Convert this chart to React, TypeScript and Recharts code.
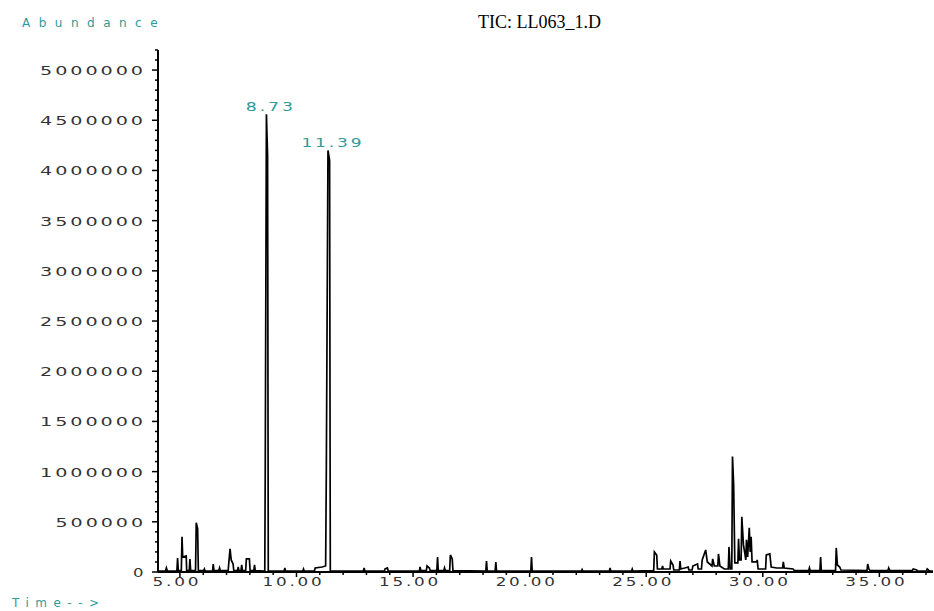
import { LineChart, Line, XAxis, YAxis, ReferenceDot } from "recharts";

// retention time (min) and abundance
const times = [
  4.1, 4.38, 4.42, 4.46, 4.87, 4.9, 4.93, 5.06, 5.09, 5.12, 5.27, 5.29, 5.4, 5.43, 5.46,
  5.67, 5.7, 5.76, 5.79, 6.02, 6.05, 6.08, 6.4, 6.43, 6.46, 6.67, 6.7, 6.73,
  7.07, 7.1, 7.15, 7.2, 7.28, 7.31, 7.47, 7.5, 7.53, 7.62, 7.65, 7.68, 7.82, 7.85, 7.98, 8.01,
  8.17, 8.2, 8.23, 8.64, 8.66, 8.71, 8.76, 8.79, 9.47, 9.5, 9.53, 10.27, 10.3, 10.33,
  10.77, 10.8, 11.1, 11.25, 11.28, 11.35, 11.42, 11.45, 12.87, 12.9, 12.93, 13.77, 13.8, 13.9, 13.93,
  15.27, 15.3, 15.33, 15.57, 15.6, 15.7, 15.73, 16.02, 16.05, 16.08, 16.32, 16.35, 16.38,
  16.57, 16.6, 16.68, 16.71, 18.12, 18.15, 18.18, 18.52, 18.55, 18.58, 20.05, 20.08, 20.11,
  22.22, 22.25, 22.28, 23.42, 23.45, 23.48, 24.37, 24.4, 24.43,
  25.32, 25.35, 25.45, 25.48, 25.67, 25.7, 25.73, 26.02, 26.05, 26.15, 26.18,
  26.42, 26.45, 26.48, 26.65, 26.8, 26.83, 26.97, 27.0, 27.2, 27.23,
  27.37, 27.4, 27.55, 27.62, 27.82, 27.85, 27.92, 28.07, 28.1, 28.16, 28.35,
  28.52, 28.55, 28.6, 28.67, 28.7, 28.75, 28.8, 28.93, 28.96, 29.0, 29.07, 29.1, 29.17, 29.24,
  29.27, 29.3, 29.35, 29.42, 29.46, 29.5, 29.54, 29.73, 29.76, 29.8, 30.12, 30.15, 30.3, 30.36,
  30.6, 30.85, 30.88, 30.92, 31.3, 31.35, 31.97, 32.0, 32.03, 32.45, 32.48, 32.51,
  33.12, 33.15, 33.2, 33.3, 33.35, 34.47, 34.5, 34.55, 34.6, 35.37, 35.4, 35.45,
  36.42, 36.45, 36.6, 36.63, 37.02, 37.05, 37.15, 37.3,
];
const abundance = [
  10000, 10000, 40000, 10000, 10000, 140000, 15000, 15000, 350000, 150000, 160000, 15000, 15000, 130000, 15000,
  15000, 490000, 430000, 15000, 15000, 30000, 10000, 10000, 80000, 15000, 15000, 40000, 15000,
  15000, 100000, 230000, 120000, 80000, 15000, 15000, 50000, 15000, 15000, 70000, 15000, 15000, 130000, 130000, 15000,
  15000, 70000, 15000, 10000, 1030000, 4560000, 4150000, 10000, 10000, 40000, 10000, 10000, 30000, 10000,
  10000, 40000, 50000, 60000, 1020000, 4200000, 4100000, 10000, 10000, 40000, 10000, 10000, 30000, 40000, 10000,
  10000, 50000, 15000, 15000, 60000, 40000, 15000, 15000, 150000, 15000, 15000, 40000, 15000,
  15000, 170000, 130000, 15000, 10000, 110000, 10000, 10000, 100000, 10000, 10000, 150000, 10000,
  10000, 25000, 10000, 10000, 40000, 10000, 10000, 30000, 10000,
  15000, 200000, 170000, 30000, 30000, 60000, 30000, 30000, 110000, 70000, 20000,
  20000, 110000, 30000, 40000, 50000, 20000, 20000, 60000, 80000, 30000,
  30000, 120000, 220000, 100000, 60000, 130000, 60000, 60000, 180000, 60000, 30000,
  30000, 250000, 30000, 30000, 1150000, 870000, 90000, 90000, 330000, 120000, 120000, 550000, 270000, 170000,
  120000, 320000, 150000, 440000, 200000, 350000, 100000, 100000, 120000, 30000, 30000, 170000, 180000, 50000,
  40000, 40000, 100000, 40000, 30000, 15000, 15000, 40000, 15000, 15000, 150000, 15000,
  15000, 240000, 70000, 50000, 20000, 15000, 80000, 30000, 15000, 15000, 40000, 15000,
  15000, 30000, 20000, 10000, 10000, 30000, 10000, 10000,
];

const peakTimes = [8.73, 11.39];
const peakLabels = ["8.73", "11.39"];
const peakTops = [4560000, 4200000];

const yTicks = Array.from({ length: 53 }, (_, i) => i * 100000);
const xTicks = Array.from({ length: 33 }, (_, i) => 5 + i);

const data = times.map((t, i) => ({ t, v: abundance[i] }));

const TEAL = "#2f9a9a";
const AXIS_FONT = "'DejaVu Sans', sans-serif";

function YTick(props: any) {
  const { x, y, payload } = props;
  const major = payload.value % 500000 === 0;
  const label = String(payload.value);
  return (
    <g>
      <line x1={x - (major ? 6 : 3)} x2={x} y1={y} y2={y} stroke="#000" strokeWidth={1.5} />
      {major && (
        <text x={x - 12} y={y + 5} textAnchor="end" fontSize={13} letterSpacing={2}
          textLength={15.5 * label.length - 2.5} lengthAdjust="spacingAndGlyphs"
          fill="#333" fontFamily={AXIS_FONT}>
          {label}
        </text>
      )}
    </g>
  );
}

function XTick(props: any) {
  const { x, y, payload } = props;
  const major = payload.value % 5 === 0;
  const label = payload.value.toFixed(2);
  return (
    <g>
      <line x1={x} x2={x} y1={y} y2={y + (major ? 5 : 3)} stroke="#000" strokeWidth={1.5} />
      {major && (
        <text x={x - 3} y={y + 14} textAnchor="middle" fontSize={12} letterSpacing={2}
          textLength={13 * label.length - 3} lengthAdjust="spacingAndGlyphs"
          fill="#333" fontFamily={AXIS_FONT}>
          {label}
        </text>
      )}
    </g>
  );
}

function PeakLabel(props: any) {
  const { viewBox, value } = props;
  return (
    <text x={viewBox.x + 4} y={viewBox.y - 3} textAnchor="middle" fontSize={12} letterSpacing={2}
      textLength={13 * value.length - 2} lengthAdjust="spacingAndGlyphs"
      fill={TEAL} fontFamily={AXIS_FONT}>
      {value}
    </text>
  );
}

export default function App() {
  return (
    <div style={{ position: "absolute", left: 0, top: 0, width: 934, height: 611, background: "#fff" }}>
      <LineChart width={934} height={611} data={data} margin={{ top: 50, right: 1, left: 0, bottom: 0 }}>
        <XAxis dataKey="t" type="number" domain={[4.06, 37.3]} allowDataOverflow ticks={xTicks}
          interval={0} height={39} tickSize={0} tickMargin={0} tick={<XTick />}
          axisLine={{ stroke: "#000", strokeWidth: 2 }} />
        <YAxis type="number" domain={[0, 5200000]} allowDataOverflow ticks={yTicks} interval={0}
          width={158} tickSize={0} tickMargin={0} tick={<YTick />}
          axisLine={{ stroke: "#000", strokeWidth: 2 }} />
        <Line type="linear" dataKey="v" stroke="#000" strokeWidth={1.7} dot={false} isAnimationActive={false} />
        {peakTimes.map((t, i) => (
          <ReferenceDot key={t} x={t} y={peakTops[i]} r={0} stroke="none" fill="none"
            label={<PeakLabel value={peakLabels[i]} />} />
        ))}
      </LineChart>
      <div style={{ position: "absolute", left: 22, top: 16, fontFamily: AXIS_FONT, fontSize: 12,
        letterSpacing: 8.5, color: TEAL }}>Abundance</div>
      <div style={{ position: "absolute", left: 478, top: 12, fontFamily: "'Liberation Serif', serif",
        fontSize: 18, color: "#000" }}>TIC: LL063_1.D</div>
      <div style={{ position: "absolute", left: 12, top: 596, fontFamily: AXIS_FONT, fontSize: 12,
        letterSpacing: 6.5, color: TEAL }}>Time--&gt;</div>
    </div>
  );
}
